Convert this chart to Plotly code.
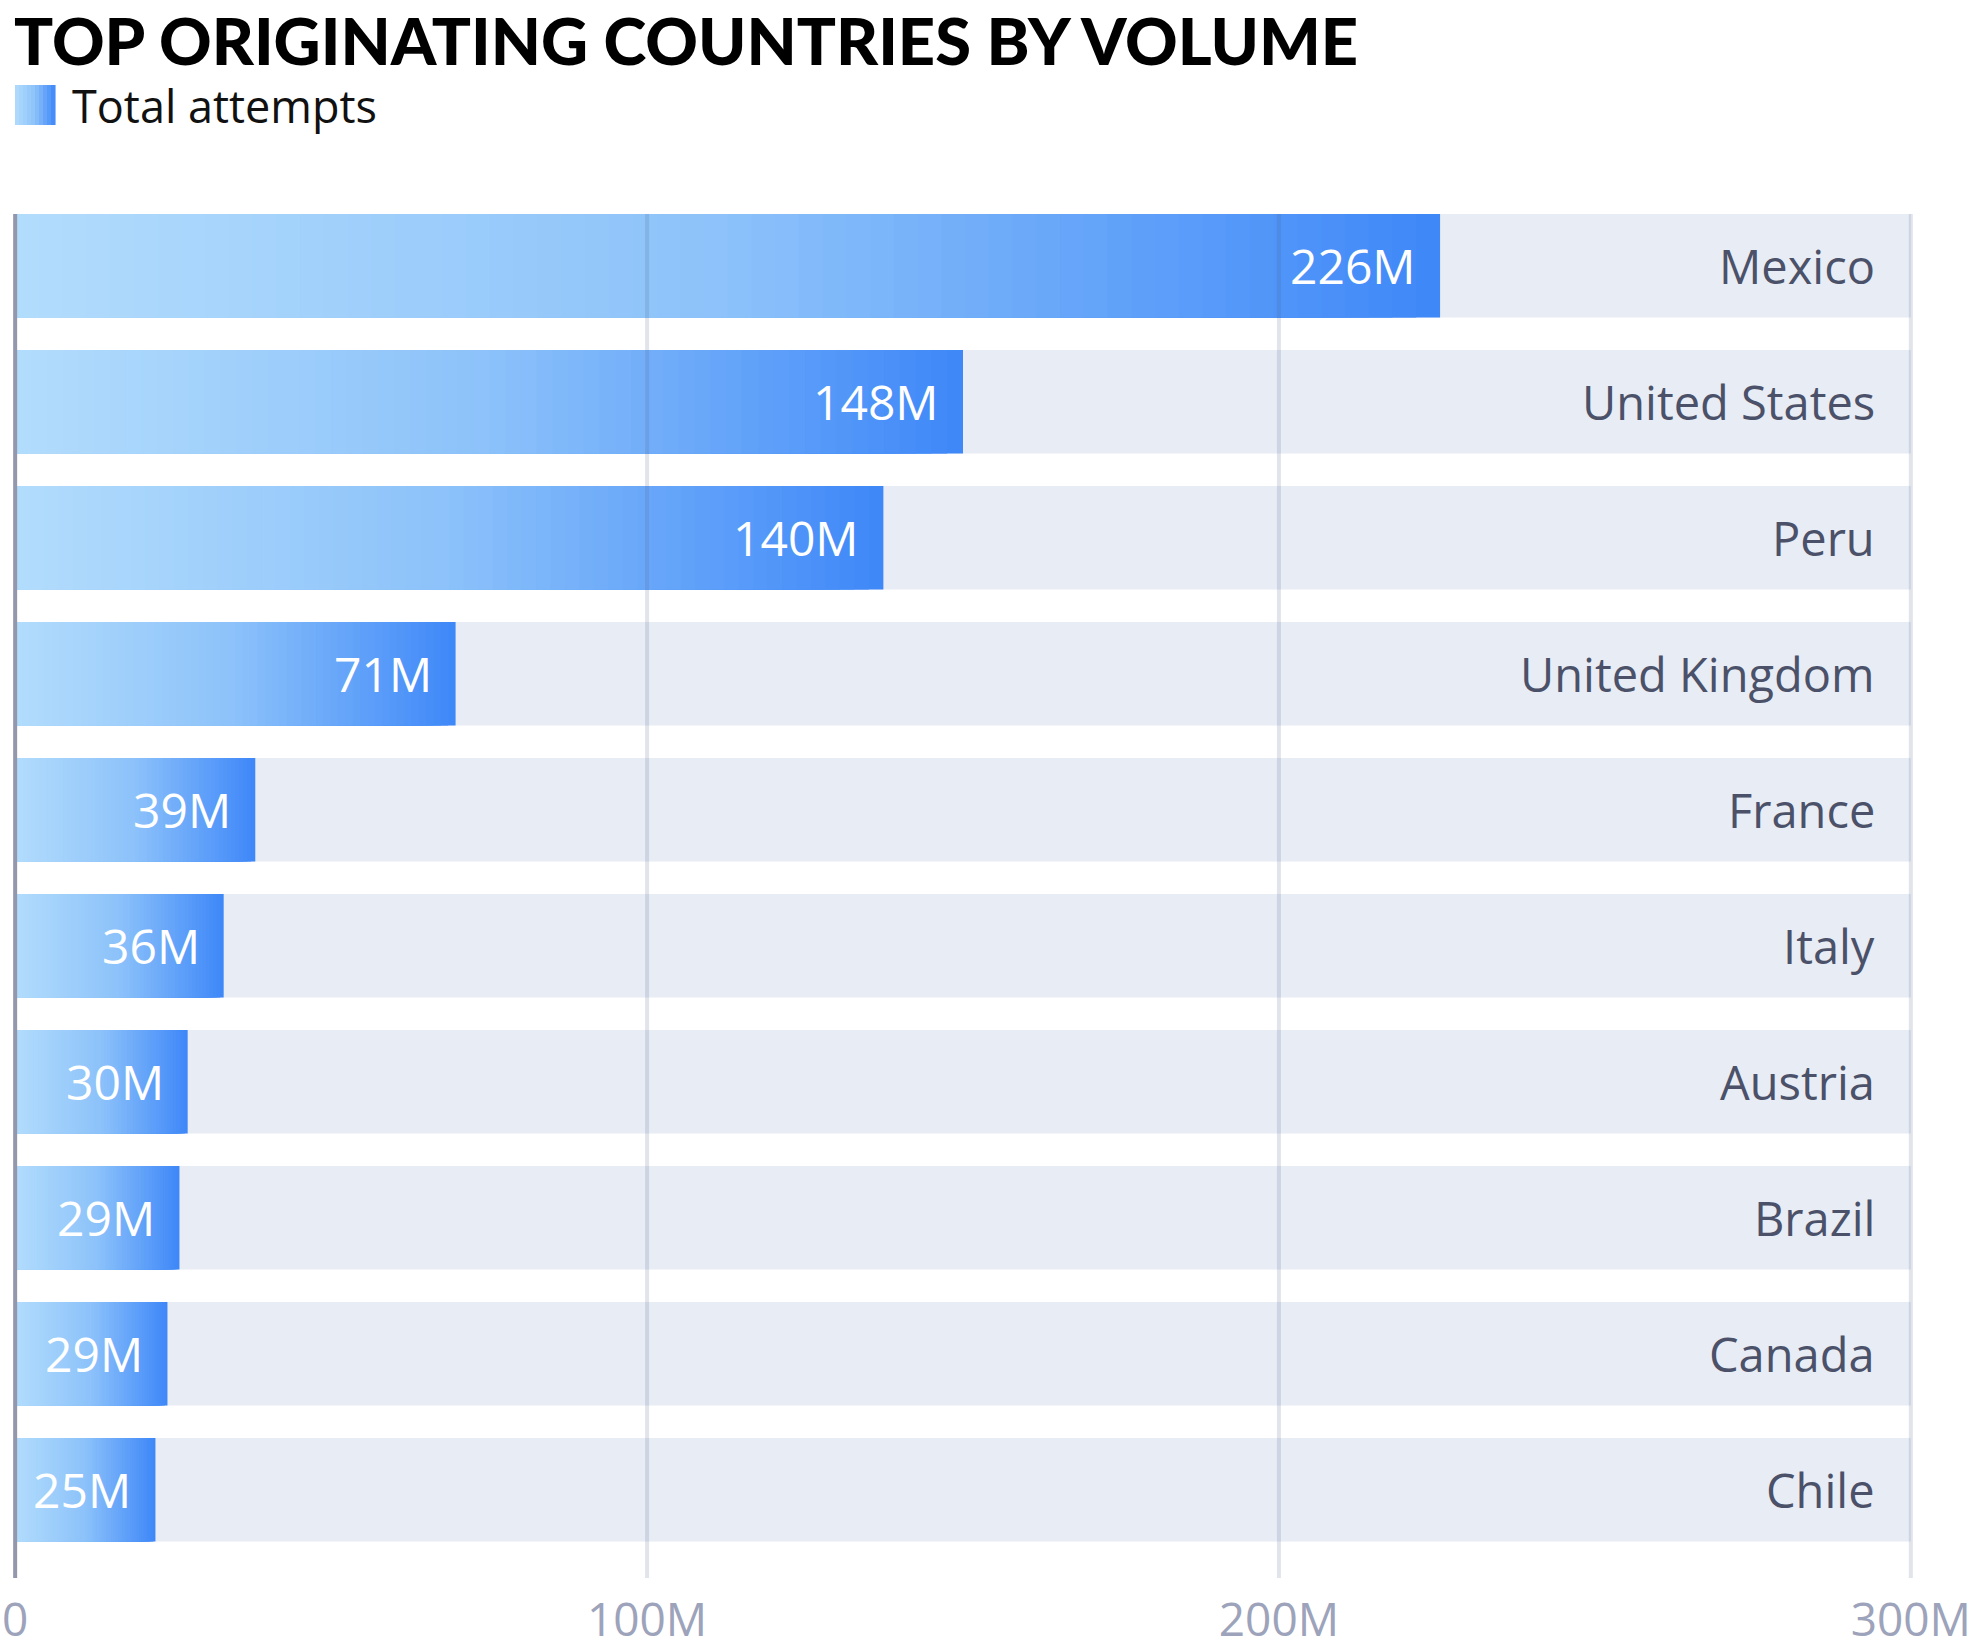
import plotly.graph_objects as go

# ---------------- data ----------------
countries = ["Mexico", "United States", "Peru", "United Kingdom", "France",
             "Italy", "Austria", "Brazil", "Canada", "Chile"]
attempts_m = [225.5, 150.0, 137.4, 69.7, 38.0, 33.0, 27.3, 26.0, 24.1, 22.2]
value_labels = ["226M", "148M", "140M", "71M", "39M", "36M", "30M", "29M", "29M", "25M"]
tick_vals_m = [0, 100, 200, 300]
tick_labels = ["0", "100M", "200M", "300M"]
axis_max_m = 300
series_name = "Total attempts"
title_text = "TOP ORIGINATING COUNTRIES BY VOLUME"

# ---------------- style ----------------
W, H = 1976, 1652
ML, MR, MT, MB = 12, 62, 214, 74
PW, PH = W - ML - MR, H - MT - MB
FONT = "Open Sans, Noto Sans, sans-serif"
TRACK = "#E8ECF5"
STOPS = [(0.0, (178, 220, 252)), (0.5, (140, 194, 250)), (1.0, (62, 135, 248))]


def grad(t):
    for (t0, c0), (t1, c1) in zip(STOPS[:-1], STOPS[1:]):
        if t <= t1:
            f = (t - t0) / (t1 - t0)
            return "rgb(%d,%d,%d)" % tuple(round(a + (b - a) * f) for a, b in zip(c0, c1))
    return "rgb(%d,%d,%d)" % STOPS[-1][1]


def px_x(px):
    return (px - ML) / PW


def px_y(py):
    return (H - MB - py) / PH


fig = go.Figure()

# background track
fig.add_trace(go.Bar(
    x=[axis_max_m] * len(countries), y=countries, orientation="h",
    marker=dict(color=TRACK, line=dict(width=0)),
    showlegend=False, hoverinfo="skip"))

# gradient bars (stacked overlay layers, darkest full-length first)
N = 60
for k in range(N, 0, -1):
    frac = k / N
    fig.add_trace(go.Bar(
        x=[v * frac for v in attempts_m], y=countries, orientation="h",
        marker=dict(color=grad((k - 0.5) / N), line=dict(width=0)),
        name=series_name, showlegend=False, hoverinfo="skip"))

# value labels at bar ends
for c, v, lab in zip(countries, attempts_m, value_labels):
    fig.add_annotation(x=v, y=c, xref="x", yref="y", text=lab, showarrow=False,
                       xanchor="right", yanchor="middle", xshift=-22,
                       font=dict(family=FONT, size=48, color="white"))

# category labels at the right end of each track
for c in countries:
    fig.add_annotation(x=axis_max_m, y=c, xref="x", yref="y", text=c, showarrow=False,
                       xanchor="right", yanchor="middle", xshift=-34,
                       font=dict(family=FONT, size=47, color="#4B5168"))

# gridlines and zero line drawn above bars
shapes = []
for tv in tick_vals_m:
    if tv == 0:
        shapes.append(dict(type="line", xref="x", yref="paper", x0=tv, x1=tv, y0=0, y1=1,
                           line=dict(color="rgb(148,150,172)", width=4), layer="above"))
    else:
        shapes.append(dict(type="line", xref="x", yref="paper", x0=tv, x1=tv, y0=0, y1=1,
                           line=dict(color="rgba(80,95,135,0.17)", width=4), layer="above"))

# custom legend swatch with gradient
sw_x0, sw_x1, sw_y0, sw_y1 = 15, 55, 85, 125
nsl = 10
for i in range(nsl):
    a = sw_x0 + (sw_x1 - sw_x0) * i / nsl
    b = sw_x0 + (sw_x1 - sw_x0) * (i + 1) / nsl
    shapes.append(dict(type="rect", xref="paper", yref="paper",
                       x0=px_x(a), x1=px_x(b) + 0.0003, y0=px_y(sw_y1), y1=px_y(sw_y0),
                       fillcolor=grad((i + 0.5) / nsl), line=dict(width=0), layer="above"))

fig.add_annotation(xref="paper", yref="paper", x=px_x(70), y=px_y(105),
                   xanchor="left", yanchor="middle", showarrow=False, text=series_name,
                   font=dict(family=FONT, size=45, color="#111111"))

fig.add_annotation(xref="paper", yref="paper", x=px_x(13), y=px_y(0),
                   xanchor="left", yanchor="top", showarrow=False,
                   text=title_text, borderpad=0,
                   font=dict(family="Lato, Open Sans, sans-serif", size=65, weight=900, color="#000000"))

fig.update_layout(
    width=W, height=H,
    margin=dict(l=ML, r=MR, t=MT, b=MB, autoexpand=False),
    paper_bgcolor="white", plot_bgcolor="white",
    barmode="overlay", bargap=0.239,
    showlegend=False,
    shapes=shapes,
    xaxis=dict(range=[-0.5, axis_max_m + 0.5], tickvals=tick_vals_m, ticktext=tick_labels,
               showgrid=False, zeroline=False, showline=False, ticks="",
               ticklabelstandoff=11, ticklabeloverflow="allow",
               tickfont=dict(family=FONT, size=46, color="#9CA3BA"), fixedrange=True),
    yaxis=dict(type="category", categoryorder="array", categoryarray=countries,
               range=[9.649, -0.3805], showticklabels=False,
               ticks="", showgrid=False, zeroline=False, showline=False, fixedrange=True),
    hovermode=False,
)

fig.write_html("out.html", config={"displayModeBar": False},
               post_script="document.body.style.margin='0';document.body.style.overflow='hidden';")
